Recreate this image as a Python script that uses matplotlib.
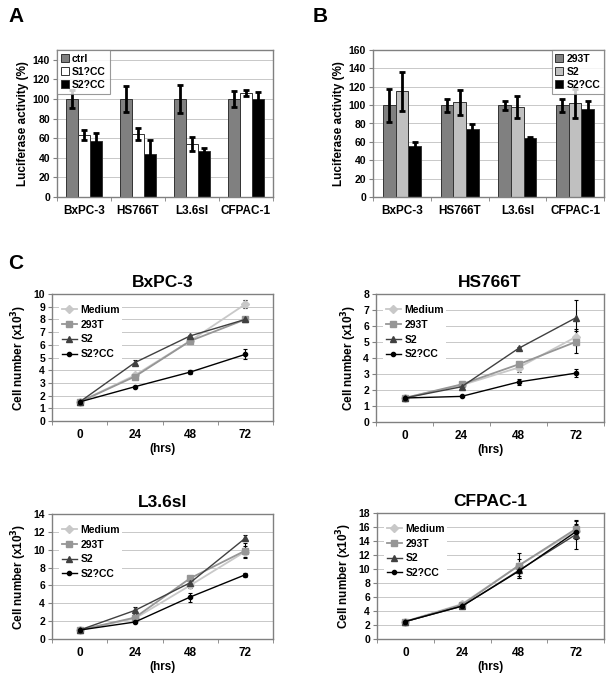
import matplotlib
matplotlib.use("Agg")
import matplotlib.pyplot as plt
import numpy as np

plt.rcParams['font.family'] = ['Liberation Sans', 'DejaVu Sans']
plt.rcParams['font.weight'] = 'bold'

W, H = 607, 677

# ---------------- data ----------------
cells = ["BxPC-3", "HS766T", "L3.6sl", "CFPAC-1"]

a_series = ["ctrl", "S1?CC", "S2?CC"]
a_ctrl = [100, 100, 100, 100]
a_ctrl_err = [9, 13, 14, 8]
a_s1 = [63, 64, 54, 106]
a_s1_err = [5, 6, 7, 3]
a_s2 = [57, 44, 47, 100]
a_s2_err = [8, 14, 3, 7]

b_series = ["293T", "S2", "S2?CC"]
b_293 = [100, 100, 100, 100]
b_293_err = [18, 7, 5, 7]
b_s2 = [115, 103, 98, 102]
b_s2_err = [21, 14, 12, 16]
b_s2cc = [56, 74, 64, 96]
b_s2cc_err = [4, 5, 1, 8]

hours = ["0", "24", "48", "72"]
line_series = ["Medium", "293T", "S2", "S2?CC"]

bx_medium = [1.5, 3.6, 6.3, 9.2]
bx_293 = [1.5, 3.5, 6.3, 8.0]
bx_s2 = [1.5, 4.6, 6.7, 8.0]
bx_s2cc = [1.5, 2.7, 3.85, 5.25]
bx_err = [[0.05, 0.15, 0.15, 0.3], [0.05, 0.15, 0.15, 0.1], [0.05, 0.2, 0.1, 0.1], [0.05, 0.05, 0.15, 0.4]]

hs_medium = [1.5, 2.3, 3.4, 5.3]
hs_293 = [1.5, 2.35, 3.6, 5.0]
hs_s2 = [1.5, 2.2, 4.6, 6.5]
hs_s2cc = [1.5, 1.6, 2.5, 3.05]
hs_err = [[0.05, 0.1, 0.3, 0.5], [0.05, 0.1, 0.15, 0.7], [0.05, 0.1, 0.1, 1.1], [0.05, 0.05, 0.2, 0.25]]

l3_medium = [1.0, 2.3, 6.0, 9.8]
l3_293 = [1.0, 2.4, 6.8, 9.9]
l3_s2 = [1.0, 3.2, 6.3, 11.3]
l3_s2cc = [1.0, 1.9, 4.7, 7.2]
l3_err = [[0.05, 0.2, 0.3, 0.6], [0.05, 0.2, 0.3, 0.8], [0.05, 0.4, 0.3, 0.3], [0.05, 0.1, 0.5, 0.2]]

cf_medium = [2.5, 5.0, 10.5, 15.5]
cf_293 = [2.5, 4.9, 10.5, 15.7]
cf_s2 = [2.5, 4.7, 9.8, 14.9]
cf_s2cc = [2.5, 4.7, 9.7, 15.3]
cf_err = [[0.1, 0.2, 1.0, 1.0], [0.1, 0.2, 1.8, 1.3], [0.1, 0.2, 0.8, 2.0], [0.1, 0.2, 1.0, 1.0]]

# ---------------- helpers ----------------
fig = plt.figure(figsize=(W / 100, H / 100), dpi=100)


def axes_px(l, t, r, b):
    return fig.add_axes([l / W, 1 - b / H, (r - l) / W, (b - t) / H])


def style(ax):
    for s in ax.spines.values():
        s.set_color('#808080')
        s.set_linewidth(1.0)
    ax.yaxis.grid(True, color='#c8c8c8', lw=0.7)
    ax.set_axisbelow(True)
    ax.tick_params(axis='both', labelsize=7.5, width=0.8, color='#808080', length=3, pad=2)


def bar_panel(ax, vals, errs, names, colors, ymax, yticks, legend_loc, legend_anchor):
    x = np.arange(len(cells))
    w = 0.22
    for i, (v, e, n, c) in enumerate(zip(vals, errs, names, colors)):
        ax.bar(x + (i - 1) * w, v, w, color=c, edgecolor='#333333', lw=0.7, label=n, zorder=2)
        ax.errorbar(x + (i - 1) * w, v, yerr=e, fmt='none', ecolor='black', elinewidth=2.0,
                    capsize=2.5, capthick=2.0, zorder=3)
    ax.set_xlim(-0.5, len(cells) - 0.5)
    ax.set_ylim(0, ymax)
    ax.set_yticks(yticks)
    ax.set_xticks(x)
    ax.set_xticklabels(cells, fontsize=8.5, fontweight='bold')
    ax.set_xticks(np.arange(len(cells) + 1) - 0.5, minor=True)
    ax.tick_params(axis='x', which='major', length=0, pad=6)
    ax.tick_params(axis='x', which='minor', length=3, color='#808080')
    ax.set_ylabel("Luciferase activity (%)", fontsize=8.5, fontweight='bold', labelpad=3)
    leg = ax.legend(loc=legend_loc, bbox_to_anchor=legend_anchor, fontsize=7.5, frameon=True,
                    fancybox=False, edgecolor='#808080', handlelength=0.8, handleheight=0.8,
                    handletextpad=0.3, borderpad=0.35, labelspacing=0.3, borderaxespad=0.0)
    leg.get_frame().set_linewidth(0.8)


def line_panel(ax, title, series, errs, ymax):
    x = np.arange(len(hours))
    specs = [
        ('#c8c8c8', 'D', 4, 1.3),
        ('#969696', 's', 4.5, 1.3),
        ('#404040', '^', 4.5, 1.0),
        ('#000000', 'o', 3, 1.0),
    ]
    handles = []
    for (c, m, ms, lw), vals, e, n in zip(specs, series, errs, line_series):
        ax.errorbar(x, vals, yerr=e, fmt='none', ecolor='black', elinewidth=0.8,
                    capsize=1.5, capthick=0.8, zorder=2)
        h, = ax.plot(x, vals, color=c, marker=m, ms=ms, lw=lw, label=n, zorder=3)
        handles.append(h)
    ax.set_xlim(-0.5, len(hours) - 0.5)
    ax.set_ylim(0, ymax)
    ax.set_xticks(x)
    ax.set_xticklabels(hours, fontsize=8.5, fontweight='bold')
    ax.set_xticks(np.arange(len(hours) + 1) - 0.5, minor=True)
    ax.tick_params(axis='x', which='major', length=0, pad=6)
    ax.tick_params(axis='x', which='minor', length=3, color='#808080')
    ax.set_title(title, fontsize=12.5, fontweight='bold', pad=5)
    ax.set_xlabel("(hrs)", fontsize=8.5, fontweight='bold', labelpad=1)
    ax.set_ylabel("Cell number (x10$^\\mathbf{3}$)", fontsize=8.5, fontweight='bold', labelpad=3)
    ax.legend(handles, line_series, loc='upper left', bbox_to_anchor=(0.01, 0.97), fontsize=7.5,
              frameon=True, fancybox=False, edgecolor='none', facecolor='white', framealpha=1,
              handlelength=1.5, handletextpad=0.3, borderpad=0.2, labelspacing=0.45)


# ---------------- panel A ----------------
axA = axes_px(57, 50, 273, 197)
style(axA)
bar_panel(axA, [a_ctrl, a_s1, a_s2], [a_ctrl_err, a_s1_err, a_s2_err], a_series,
          ['#808080', '#ffffff', '#000000'], 150, np.arange(0, 141, 20), 'upper left', (0.0, 1.0))

# ---------------- panel B ----------------
axB = axes_px(373, 50, 604, 197)
style(axB)
bar_panel(axB, [b_293, b_s2, b_s2cc], [b_293_err, b_s2_err, b_s2cc_err], b_series,
          ['#808080', '#c0c0c0', '#000000'], 160, np.arange(0, 161, 20), 'upper right', (1.0, 1.0))

# ---------------- panel C ----------------
ax1 = axes_px(52, 294, 273, 421)
style(ax1)
ax1.set_yticks(np.arange(0, 11, 1))
line_panel(ax1, "BxPC-3", [bx_medium, bx_293, bx_s2, bx_s2cc], bx_err, 10)

ax2 = axes_px(376, 294, 604, 422)
style(ax2)
ax2.set_yticks(np.arange(0, 9, 1))
line_panel(ax2, "HS766T", [hs_medium, hs_293, hs_s2, hs_s2cc], hs_err, 8)

ax3 = axes_px(52, 514, 273, 639)
style(ax3)
ax3.set_yticks(np.arange(0, 15, 2))
line_panel(ax3, "L3.6sl", [l3_medium, l3_293, l3_s2, l3_s2cc], l3_err, 14)

ax4 = axes_px(377, 513, 604, 639)
style(ax4)
ax4.set_yticks(np.arange(0, 19, 2))
line_panel(ax4, "CFPAC-1", [cf_medium, cf_293, cf_s2, cf_s2cc], cf_err, 18)

# panel letters
fig.text(8 / W, 1 - 16 / H, "A", fontsize=15, fontweight='bold', va='center')
fig.text(313 / W, 1 - 16 / H, "B", fontsize=15, fontweight='bold', va='center')
fig.text(8 / W, 1 - 263 / H, "C", fontsize=15, fontweight='bold', va='center')

fig.savefig("out.png", dpi=100)
